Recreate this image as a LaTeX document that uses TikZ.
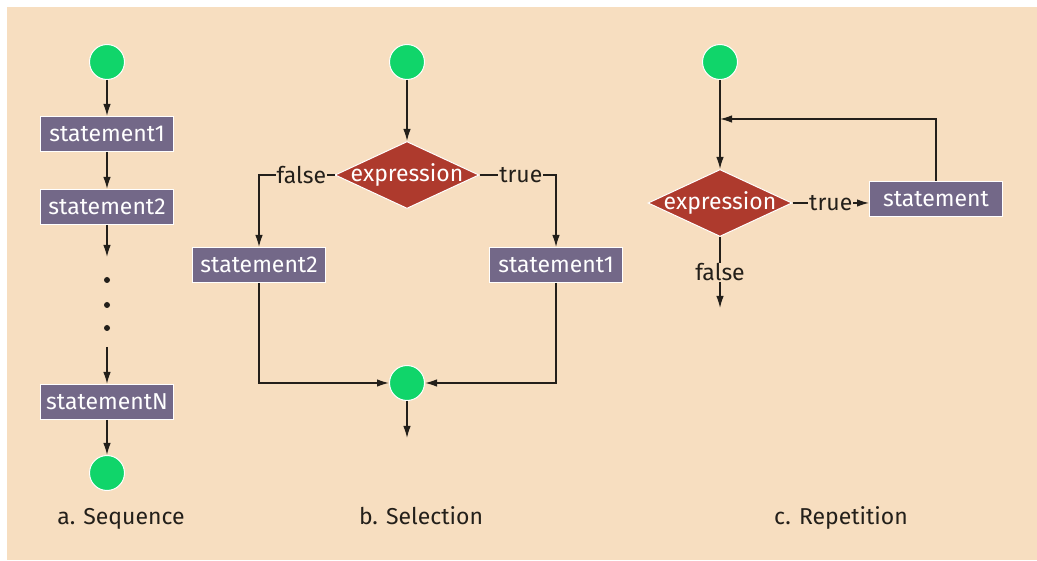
\documentclass[tikz,border=0pt]{standalone}
\usepackage{fontspec}
\setmainfont{Fira Sans}
\usetikzlibrary{arrows.meta,shapes.geometric}
\definecolor{bg}{HTML}{F7DEC0}
\definecolor{grn}{HTML}{10D56A}
\definecolor{boxc}{HTML}{736888}
\definecolor{redd}{HTML}{AE3A2D}
\definecolor{ink}{HTML}{231F1A}
\begin{document}
\begin{tikzpicture}[x=1pt,y=-1pt,font=\fontsize{23}{26}\selectfont,
  circ/.style={circle,fill=grn,draw=white,line width=1pt,minimum size=35pt,inner sep=0},
  sbox/.style={rectangle,fill=boxc,draw=white,line width=1pt,text=white,minimum width=133pt,minimum height=35pt,inner sep=0},
  dia/.style={diamond,fill=redd,draw=white,line width=1pt,minimum width=144pt,minimum height=67pt,inner sep=0},
  con/.style={draw=ink,line width=1.3pt},
  arr/.style={con,-{Latex[length=12pt,width=7.5pt]}},
  lab/.style={fill=bg,text=ink,inner sep=1pt},
  captxt/.style={text=ink,inner sep=0,anchor=base},
  dot/.style={circle,fill=ink,inner sep=0,minimum size=6pt}]
\useasboundingbox (0,0) rectangle (1037,561);
\fill[white] (0,0) rectangle (1037,561);
\fill[bg] (7,7) rectangle (1037,560);
% a. Sequence
\node[circ] (a0) at (107,62) {};
\node[sbox] (a1) at (107,134) {statement1};
\node[sbox] (a2) at (107,207) {statement2};
\coordinate (a2e) at (107,257);
\node[dot] (d1) at (107,280) {};
\node[dot] (d2) at (107,305) {};
\node[dot] (d3) at (107,328) {};
\coordinate (aNs) at (107,347);
\node[sbox] (aN) at (107,402) {statementN};
\node[circ] (aE) at (107,473) {};
\draw[arr] (a0) -- (a1);
\draw[arr] (a1) -- (a2);
\draw[arr] (a2) -- (a2e);
\draw[arr] (aNs) -- (aN);
\draw[arr] (aN) -- (aE);
\node[captxt] (ca) at (121,524) {a. Sequence};
% b. Selection
\node[circ] (b0) at (407,62) {};
\node[dia] (bd) at (407,175) {};
\node[text=white,inner sep=0] (bdt) at (bd) {expression};
\node[sbox] (bf) at (259,265) {statement2};
\node[sbox] (bt) at (556,265) {statement1};
\node[circ] (bj) at (407,383) {};
\coordinate (bx) at (407,438);
\draw[arr] (b0) -- (bd);
\draw[arr] (bd.west) -| node[lab,pos=0.22] {false} (bf.north);
\draw[arr] (bd.east) -| node[lab,pos=0.27] {true} (bt.north);
\draw[arr] (bf.south) |- (bj.west);
\draw[arr] (bt.south) |- (bj.east);
\draw[arr] (bj) -- (bx);
\node[captxt] (cb) at (421,524) {b. Selection};
% c. Repetition
\node[circ] (c0) at (720,62) {};
\node[dia] (cd) at (720,203) {};
\node[text=white,inner sep=0] (cdt) at (cd) {expression};
\node[sbox] (cs) at (936,199) {statement};
\coordinate (cm) at (720,119);
\coordinate (cx) at (720,308);
\draw[con] (c0) -- (cm);
\draw[arr] (cm) -- (cd);
\draw[arr] (cs.north) |- (cm);
\draw[arr] (cd.east) -- node[lab] {true} (cd.east -| cs.west);
\draw[arr] (cd.south) -- node[lab] {false} (cx);
\node[captxt] (cc) at (841,524) {c. Repetition};
\end{tikzpicture}
\end{document}
